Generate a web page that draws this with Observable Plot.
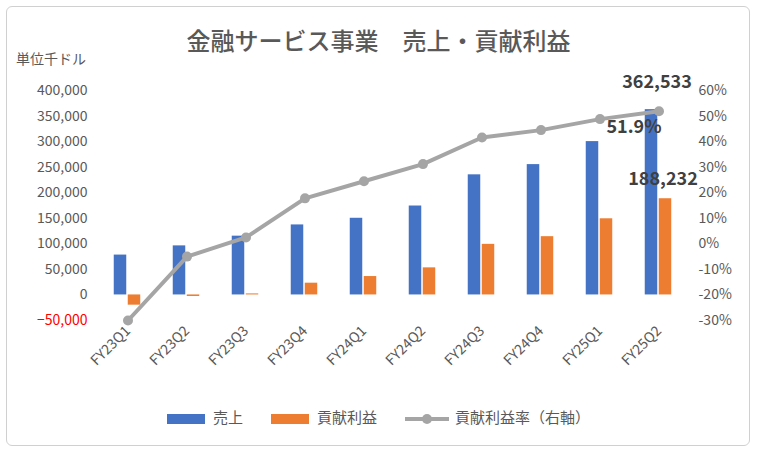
<!DOCTYPE html>
<html><head><meta charset="utf-8">
<script src="https://cdn.jsdelivr.net/npm/d3@7"></script>
<script src="https://cdn.jsdelivr.net/npm/@observablehq/plot@0.6"></script>
<style>
body{margin:0;background:#fff;font-family:"Noto Sans CJK JP",sans-serif;color:#595959}
#frame{position:absolute;left:6px;top:6px;width:742px;height:438px;border:1px solid #d0d0d0;border-radius:6px}
#title{position:absolute;left:0;width:757px;top:22px;text-align:center;font-size:24px;color:#595959;font-weight:500}
#unit{position:absolute;left:16px;top:48px;font-size:14px}
#chart{position:absolute;left:0;top:60px}
#legend{position:absolute;top:406px;left:0;width:757px;display:flex;justify-content:center;gap:28px;font-size:15px;align-items:center}
.sw{display:inline-block;width:38px;height:10px;margin-right:8px;vertical-align:middle}
</style></head><body>
<div id="frame"></div>
<div id="title">金融サービス事業　売上・貢献利益</div>
<div id="unit">単位千ドル</div>
<div id="chart"></div>
<div id="legend">
<span><span class="sw" style="background:#4472C4"></span>売上</span>
<span><span class="sw" style="background:#ED7D31"></span>貢献利益</span>
<span><svg width="44" height="14" style="vertical-align:middle;margin-right:6px"><line x1="0" y1="7" x2="44" y2="7" stroke="#A5A5A5" stroke-width="4"/><circle cx="22" cy="7" r="5" fill="#A5A5A5"/></svg>貢献利益率（右軸）</span>
</div>
<script>
const quarters=["FY23Q1","FY23Q2","FY23Q3","FY23Q4","FY24Q1","FY24Q2","FY24Q3","FY24Q4","FY25Q1","FY25Q2"];
const sales=[78000,96000,115000,137000,150000,174000,235000,255000,300000,362533];
const contrib=[-20000,-3000,2000,23000,36000,53000,99000,114000,149000,188232];
const rate=[-30,-5,2.5,17.8,24.5,31.2,41.6,44.5,48.8,51.9];
const leftTicks=[-50000,0,50000,100000,150000,200000,250000,300000,350000,400000];
const rightTicks=[-30,-20,-10,0,10,20,30,40,50,60];
const toY=r=>5000*r+100000;
const rows=quarters.map((q,i)=>({q,s:sales[i],c:contrib[i],r:rate[i],ry:toY(rate[i])}));
const bw=59.5;
const fmt=d3.format(",");
const chart=Plot.plot({
  width:757,height:340,marginLeft:95,marginRight:67,marginTop:30,marginBottom:80,
  style:{fontFamily:"'Noto Sans CJK JP',sans-serif",fontSize:"14px",color:"#595959"},
  x:{domain:quarters,padding:0,label:null},
  y:{domain:[-50000,400000],label:null},
  marks:[
    Plot.barY(rows,{x:"q",y:"s",fill:"#4472C4",insetLeft:bw/2-14,insetRight:bw/2+1}),
    Plot.barY(rows,{x:"q",y:"c",fill:"#ED7D31",insetLeft:bw/2,insetRight:bw/2-13}),
    Plot.line(rows,{x:"q",y:"ry",stroke:"#A5A5A5",strokeWidth:4}),
    Plot.dot(rows,{x:"q",y:"ry",fill:"#A5A5A5",r:5}),
    Plot.axisY({ticks:leftTicks.filter(d=>d>=0),tickSize:0,tickPadding:8,tickFormat:fmt,label:null,fontSize:14}),
    Plot.axisY({ticks:leftTicks.filter(d=>d<0),tickSize:0,tickPadding:8,tickFormat:fmt,label:null,fill:"#FF0000",fontSize:14}),
    Plot.axisY({anchor:"right",ticks:rightTicks.map(toY),tickSize:0,tickPadding:8,tickFormat:v=>Math.round((v-100000)/5000)+"%",label:null,fontSize:14}),
    Plot.axisX({tickRotate:-45,tickSize:0,tickPadding:8,label:null,fontSize:14}),
    Plot.text([rows[9]],{x:"q",y:"s",text:d=>fmt(d.s),dy:-27,dx:-2,fontWeight:"bold",fontSize:18,fill:"#404040"}),
    Plot.text([rows[9]],{x:"q",y:"ry",text:d=>d.r+"%",dx:-25,dy:16,textAnchor:"middle",fontWeight:"bold",fontSize:18,fill:"#404040"}),
    Plot.text([rows[9]],{x:"q",y:"c",text:d=>fmt(d.c),dy:-20,dx:4,fontWeight:"bold",fontSize:18,fill:"#404040"})
  ]
});
document.getElementById("chart").append(chart);
</script></body></html>
